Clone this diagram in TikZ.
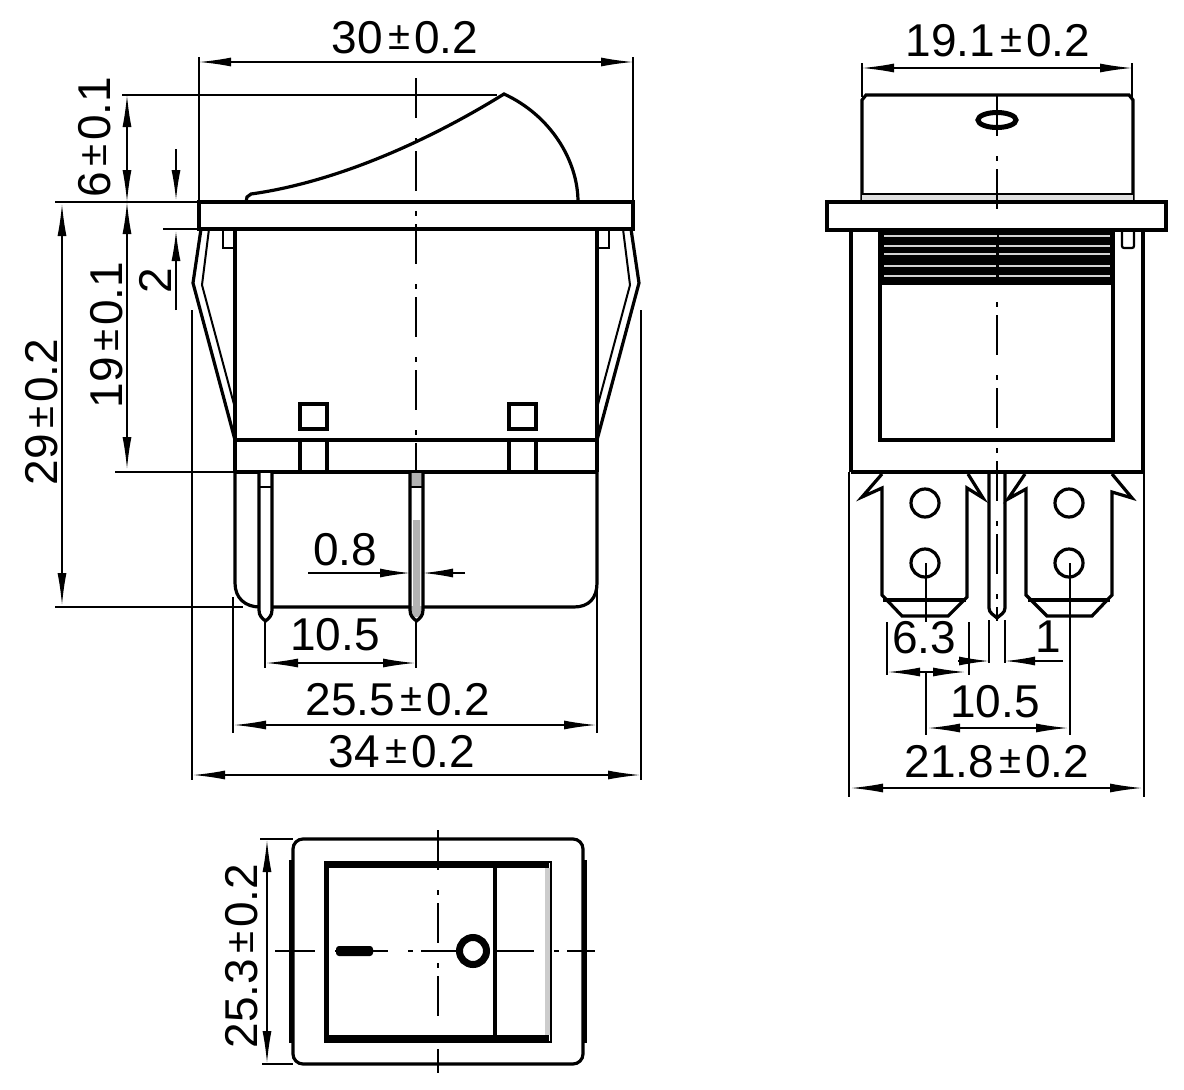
\documentclass[tikz,border=0pt]{standalone}
\usepackage{fontspec}
\setmainfont{Liberation Sans}
\usetikzlibrary{arrows.meta}
\newcommand{\plm}{\kern5pt\raisebox{4pt}{\fontsize{40}{40}\selectfont ±}\kern4pt}
\tikzset{
  outline/.style={line width=3.2pt,line join=miter},
  thin line/.style={line width=1.4pt},
  axis/.style={line width=1.5pt,dash pattern=on 40pt off 20pt on 5pt off 8pt},
  dim/.style={line width=1.4pt,{Latex[length=32pt,width=9pt]}-{Latex[length=32pt,width=9pt]}},
  lead/.style={line width=1.4pt,-{Latex[length=30pt,width=9pt]}},
  size/.style={font=\fontsize{46}{46}\selectfont,inner sep=0pt,anchor=base},
  upsize/.style={size,rotate=90}
}
\begin{document}
\begin{tikzpicture}[x=1pt,y=-1pt]
      \useasboundingbox (0,0) rectangle (1184,1090);
      % front view
      \draw[outline] (199,202) rectangle (633,229);
      \draw[outline] (246,202) -- (247,197) -- (251,194) .. controls (330,183) and (420,146) .. (504,94)
        .. controls (550,115) and (578,160) .. (578,202);
      \draw[outline] (235,229) -- (235,472) (597,229) -- (597,472);
      \draw[outline] (235,440) -- (597,440) (235,472) -- (597,472);
      \draw[outline,line width=2.2pt] (223,229) -- (223,248) -- (235,248) (609,229) -- (609,248) -- (597,248);
      \foreach \sx in {300,509} {
        \draw[outline] (\sx,404) rectangle ++(27,25);
        \draw[outline] (\sx,440) -- (\sx,472) (\sx+27,440) -- (\sx+27,472);
      }
      % side clips
      \draw[outline] (201,229) -- (193,283) -- (235,440) (631,229) -- (639,283) -- (597,440);
      \draw[outline,line width=2pt] (209,229) -- (202,285) -- (235,408) (623,229) -- (630,285) -- (597,408);
      % lower body
      \draw[outline] (235,472) -- (235,583) .. controls (235,598) and (245,607) .. (260,607) -- (574,607)
        .. controls (589,607) and (597,598) .. (597,583) -- (597,472);
      % pins
      \fill[white] (259,473) rectangle (271,620);
      \fill[white] (410,473) rectangle (423,620);
      \fill[gray!60] (411,473) rectangle (422,486) (413,520) rectangle (420,606) (411,606) rectangle (422,617);
      \foreach \px in {259,410} {
        \draw[outline] (\px,473) -- (\px,610) .. controls (\px,616) and (\px+3,618) .. (\px+6.5,621)
          .. controls (\px+10,618) and (\px+13,616) .. (\px+13,610) -- (\px+13,473);
        \draw[outline,line width=1.8pt] (\px,487) -- (\px+13,487);
      }
      \draw[axis] (416,78) -- (416,472);
      % front view dimensions
      \coordinate (wl) at (199,62); \coordinate (wr) at (633,62);
      \draw[thin line] (199,57) -- (199,202) (633,57) -- (633,202);
      \path[dim] (wl) edge (wr);
      \node[size] (wt) at (405,53) {30\plm0.2};
      \draw[thin line] (122,95) -- (497,95) (55,202) -- (199,202) (163,229) -- (199,229)
        (115,472) -- (235,472) (55,607) -- (243,607);
      \coordinate (ra) at (127,95); \coordinate (rb) at (127,202); \coordinate (rc) at (127,469);
      \path[dim] (ra) edge (rb);
      \path[dim] (rb) edge (rc);
      \node[upsize] (rt) at (110,137) {6\plm0.1};
      \node[upsize] (bt) at (122,335) {19\plm0.1};
      \coordinate (ta) at (62,204); \coordinate (tb) at (62,605);
      \path[dim] (ta) edge (tb);
      \node[upsize] (tt) at (57,412) {29\plm0.2};
      \coordinate (fa) at (176,149); \coordinate (fb) at (176,200);
      \coordinate (fc) at (176,310); \coordinate (fd) at (176,231);
      \path[lead] (fa) edge (fb);
      \path[lead] (fc) edge (fd);
      \node[upsize] (ft) at (171,281) {2};
      \draw[thin line] (192,310) -- (192,780) (641,310) -- (641,780);
      \coordinate (ol) at (193,775); \coordinate (or) at (640,775);
      \path[dim] (ol) edge (or);
      \node[size] (ot) at (402,767) {34\plm0.2};
      \draw[thin line] (233,597) -- (233,733) (597,590) -- (597,733);
      \coordinate (hl) at (234,725); \coordinate (hr) at (596,725);
      \path[dim] (hl) edge (hr);
      \node[size] (ht) at (398,715) {25.5\plm0.2};
      \draw[thin line] (265,620) -- (265,668) (416,620) -- (416,668);
      \coordinate (pl) at (266,663); \coordinate (pr) at (415,663);
      \path[dim] (pl) edge (pr);
      \node[size] (pt) at (335,650) {10.5};
      \coordinate (el) at (308,573); \coordinate (em) at (410,573);
      \coordinate (en) at (423,573); \coordinate (er) at (465,573);
      \path[lead] (el) edge (em);
      \path[lead] (er) edge (en);
      \node[size] (et) at (345,565) {0.8};
      % side view
      \draw[outline] (862,202) -- (862,100) -- (866,95) -- (1129,95) -- (1133,100) -- (1133,202);
      \fill[gray!25] (862,194) rectangle (1133,202);
      \draw[outline,line width=2.2pt] (862,194) -- (1133,194);
      \draw[outline] (827,202) rectangle (1166,230);
      \draw[outline] (851,230) -- (851,472) (1143,230) -- (1143,472) (851,472) -- (1143,472);
      \draw[outline] (880,230) -- (880,440) -- (1113,440) -- (1113,230);
      \fill (880,230) rectangle (1113,285);
      \foreach \hy/\hw in {236/2.5,246/1.5,254/1.2,266/2,276/1.5} {
        \draw[gray!35,line width=\hw pt] (884,\hy) -- (1110,\hy);
      }
      \draw[line width=2.2pt] (998,232) -- (998,284);
      \draw[outline,line width=2.2pt,rounded corners=2pt] (1122,230) -- (1122,248) -- (1134,248) -- (1134,230);
      \draw[line width=5pt] (997,120) ellipse (19pt and 7.5pt);
      \coordinate (cl) at (862,68); \coordinate (cr) at (1132,68);
      \draw[thin line] (862,63) -- (862,97) (1132,63) -- (1132,97);
      \path[dim] (cl) edge (cr);
      \node[size] (ct) at (998,56) {19.1\plm0.2};
      % blades
      \draw[outline] (882,474) -- (862,497) -- (882,488) -- (882,595) -- (902,616) -- (948,616)
        -- (967,597) -- (967,488) -- (983,498) -- (968,474);
      \draw[outline] (1025,474) -- (1008,499) -- (1026,489) -- (1026,595) -- (1047,616) -- (1092,616)
        -- (1112,595) -- (1112,492) -- (1132,498) -- (1112,474);
      \draw[outline] (883,600) -- (966,600) (1028,600) -- (1110,600);
      \foreach \bx in {925,1069} {
        \draw[outline] (\bx,503) circle (14pt);
        \draw[outline] (\bx,563) circle (14pt);
      }
      \draw[outline] (989,473) -- (989,608) .. controls (989,613) and (994,615) .. (997,618)
        .. controls (1000,615) and (1005,613) .. (1005,608) -- (1005,473);
      \draw[axis] (997,96) -- (997,621);
      % side view dimensions
      \draw[thin line] (887,622) -- (887,675) (969,622) -- (969,675);
      \coordinate (sl) at (888,672); \coordinate (sr) at (965,672);
      \path[dim] (sl) edge (sr);
      \node[size] (st) at (924,653) {6.3};
      \draw[thin line] (989,620) -- (989,663) (1005,620) -- (1005,663);
      \coordinate (nl) at (958,661); \coordinate (nm) at (989,661);
      \coordinate (nn) at (1005,661); \coordinate (nr) at (1063,661);
      \path[lead] (nl) edge (nm);
      \path[lead] (nr) edge (nn);
      \node[size] (nt) at (1048,652) {1};
      \draw[thin line] (926,563) -- (926,622) (926,672) -- (926,735) (1070,563) -- (1070,735);
      \coordinate (dl) at (928,728); \coordinate (dr) at (1068,728);
      \path[dim] (dl) edge (dr);
      \node[size] (dt) at (995,717) {10.5};
      \draw[thin line] (849,472) -- (849,797) (1144,472) -- (1144,797);
      \coordinate (al) at (851,788); \coordinate (ar) at (1142,788);
      \path[dim] (al) edge (ar);
      \node[size] (at) at (997,777) {21.8\plm0.2};
      % top view
      \draw[outline,rounded corners=10pt] (293,839) rectangle (583,1064);
      \draw[line width=4.5pt] (291.5,860) -- (291.5,1043) (584.5,860) -- (584.5,1043);
      \fill (325,862) rectangle (549,1042);
      \fill[white] (329,868) rectangle (545,1035);
      \fill[gray!40] (545,868) rectangle (551,1035);
      \draw[outline,line width=2pt] (325,862) rectangle (551,1042);
      \draw[outline] (495,862) -- (495,1042);
      \draw[axis] (275,951) -- (595,951);
      \draw[axis] (438,830) -- (438,1073);
      \fill[rounded corners=3pt] (336,946) rectangle (373,956);
      \draw[line width=7pt,fill=white] (473,951) circle (13.5pt);
      \coordinate (ua) at (267,840); \coordinate (ub) at (267,1063);
      \draw[thin line] (260,839) -- (293,839) (262,1064) -- (293,1064);
      \path[dim] (ua) edge (ub);
      \node[upsize] (ut) at (257,956) {25.3\plm0.2};
\end{tikzpicture}
\end{document}
